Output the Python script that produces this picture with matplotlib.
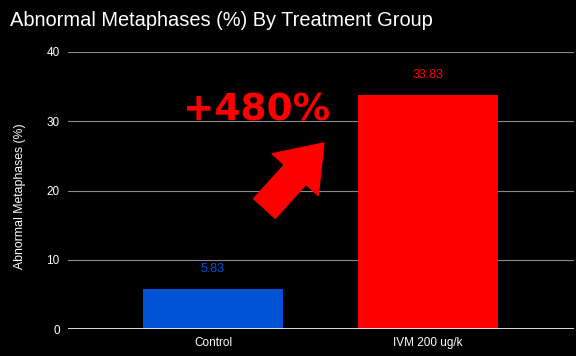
import matplotlib.pyplot as plt

groups = ["Control", "IVM 200 ug/k"]
values = [5.83, 33.83]
colors = ["#0052d4", "#ff0000"]
yticks = [0, 10, 20, 30, 40]

plt.rcParams['font.family'] = ['Liberation Sans', 'DejaVu Sans']

fig = plt.figure(figsize=(5.76, 3.56), dpi=100, facecolor='black')
ax = fig.add_axes([68 / 576, 1 - 329 / 356, 506 / 576, 277 / 356])
ax.set_facecolor('black')

x = list(range(len(groups)))
ax.bar(x, values, width=0.65, color=colors, zorder=3)
for xi, v, c in zip(x, values, colors):
    ax.text(xi, v + 2.0, f"{v:.2f}", color=c, ha='center', va='bottom', fontsize=9)

ax.set_xlim(-0.674, 1.679)
ax.set_ylim(0, 40)
ax.set_yticks(yticks)
ax.set_xticks(x)
ax.set_xticklabels(groups)
ax.tick_params(axis='both', colors='white', labelsize=8.5, length=0, pad=6)
ax.grid(axis='y', color='#8a8a8a', linewidth=0.8, zorder=0)
ax.axhline(0, color='white', linewidth=1.2, zorder=4)
for s in ax.spines.values():
    s.set_visible(False)

ax.set_ylabel("Abnormal Metaphases (%)", color='white', fontsize=8.8, labelpad=15)
ax.yaxis.label.set_y(0.48)

fig.text(10 / 576, 1 - 21 / 356, "Abnormal Metaphases (%) By Treatment Group",
         color='white', fontsize=14.4, ha='left', va='center')

# callout
ax.text(0.205, 31.5, "+480%", color='#ff0000', fontsize=27, fontweight='bold',
        family='DejaVu Sans', ha='center', va='center', zorder=5)
ax.annotate("", xy=(0.516, 26.86), xytext=(0.2395, 17.4),
            arrowprops=dict(arrowstyle='simple,head_length=1.1,head_width=1.6,tail_width=0.75',
                            color='#ff0000', mutation_scale=28, shrinkA=0, shrinkB=0),
            zorder=5)

fig.savefig("out.png", dpi=100, facecolor='black')
